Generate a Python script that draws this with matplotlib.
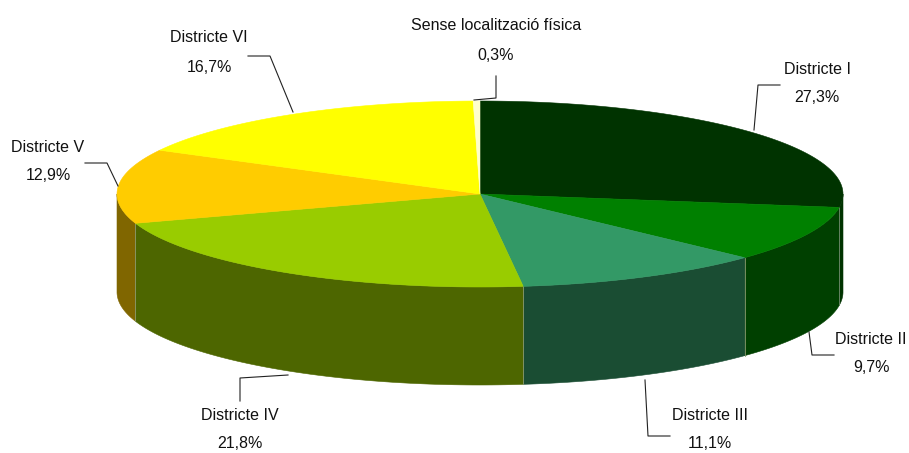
import numpy as np
import matplotlib
matplotlib.use("Agg")
import matplotlib.pyplot as plt
from matplotlib.patches import Polygon

labels = ["Districte I", "Districte II", "Districte III", "Districte IV",
          "Districte V", "Districte VI", "Sense localització física"]
values = [27.3, 9.7, 11.1, 21.8, 12.9, 16.7, 0.3]
top_colors = ["#003300", "#008000", "#339966", "#99CC00", "#FFCC00", "#FFFF00", "#FFFFCC"]
side_colors = ["#003300", "#004000", "#1A4D33", "#4D6600", "#806600", "#808000", "#808066"]

# pie geometry in pixels
cx, cy = 480, 194
rx, ry = 363, 93
depth = 98

# text centre x, name y, percent y
text_pos = [(817, 69, 97), (871, 339, 367), (710, 415, 443), (240, 415, 444),
            (48, 148, 175), (209, 38, 67), (496, 26, 55)]
leaders = [
    [(754, 130), (758, 85), (780, 85)],
    [(809, 332), (812, 355), (834, 355)],
    [(645, 380), (648, 436), (670, 436)],
    [(288, 375), (240, 378), (240, 401)],
    [(118, 186), (107, 163), (85, 163)],
    [(293, 112), (270, 56), (248, 56)],
    [(474, 100), (496, 98), (496, 76)],
]


def rim(t):
    return cx + rx * np.sin(t), cy - ry * np.cos(t)


fig = plt.figure(figsize=(9.09, 4.53), dpi=100)
ax = fig.add_axes([0, 0, 1, 1])
ax.set_xlim(0, 909)
ax.set_ylim(453, 0)
ax.axis("off")

# the printed shares add up to 99.8, the rounding gap goes to slice VI
edges = np.cumsum([0] + values) / 100 * 2 * np.pi
edges[-1] = 2 * np.pi
edges[-2] = edges[-1] - values[-1] / 100 * 2 * np.pi

# outer wall first, only the part facing the viewer
for i in range(len(values)):
    a = max(edges[i], np.pi / 2)
    b = min(edges[i + 1], 3 * np.pi / 2)
    if b <= a:
        continue
    t = np.linspace(a, b, 80)
    x, y = rim(t)
    pts = np.r_[np.c_[x, y], np.c_[x[::-1], y[::-1] + depth]]
    ax.add_patch(Polygon(pts, closed=True, fc=side_colors[i], ec=side_colors[i], lw=0.4))
    if edges[i] > np.pi / 2:
        ax.plot([x[0], x[0]], [y[0], y[0] + depth], color="#8A9A70", lw=0.6)
    elif i == 0:
        # the seam between slices I and II
        x2, y2 = rim(edges[1])
        ax.plot([x2, x2], [y2, y2 + depth], color="#5F7F5F", lw=0.6, zorder=3)

# top face
for i in range(len(values)):
    t = np.linspace(edges[i], edges[i + 1], 120)
    x, y = rim(t)
    pts = np.r_[[[cx, cy]], np.c_[x, y]]
    ax.add_patch(Polygon(pts, closed=True, fc=top_colors[i], ec=top_colors[i], lw=0.4, zorder=4))

for line in leaders:
    ax.plot(*zip(*line), color="#222222", lw=0.8, zorder=5)

font = {"family": "Liberation Sans", "fontsize": 11.5, "color": "#111111"}
for name, val, (tx, y1, y2) in zip(labels, values, text_pos):
    ax.text(tx, y1, name, ha="center", va="center", **font)
    ax.text(tx, y2, f"{val:.1f}%".replace(".", ","), ha="center", va="center", **font)

fig.savefig("out.png", dpi=100)
